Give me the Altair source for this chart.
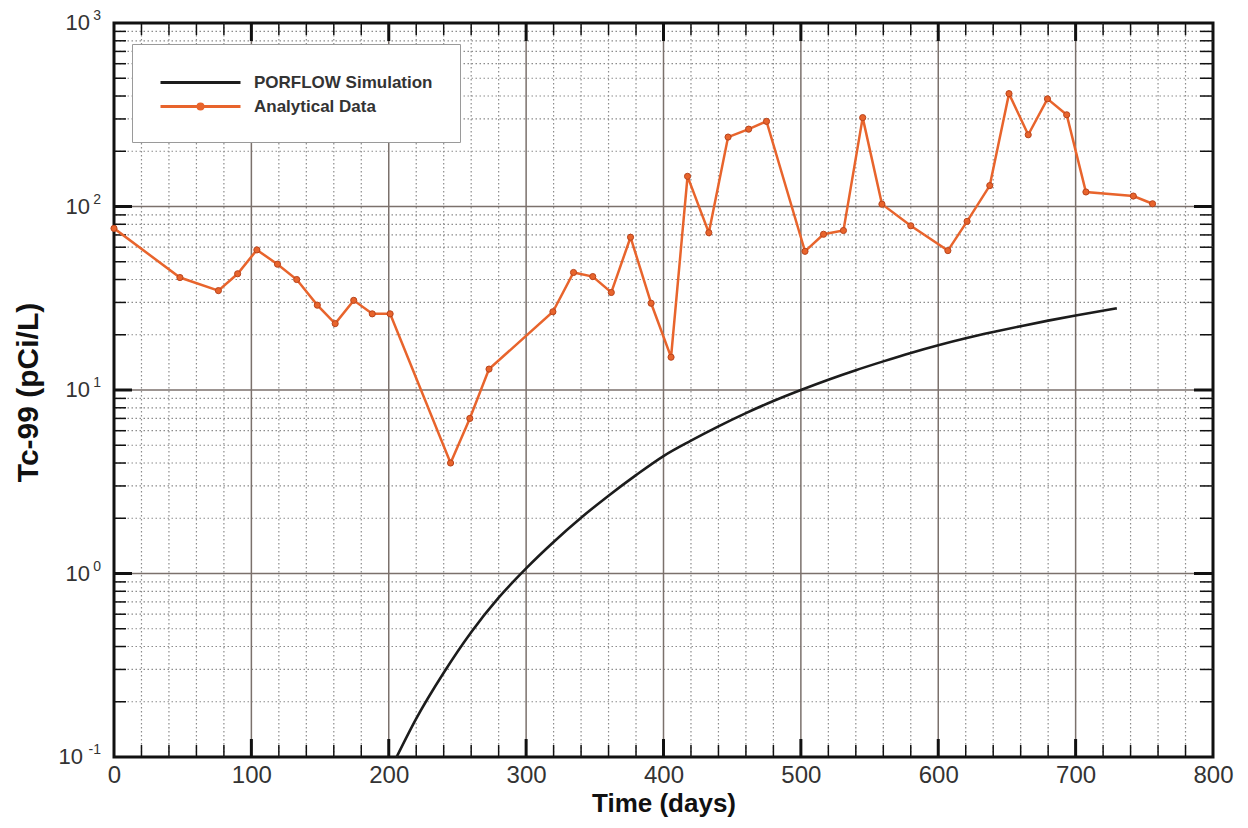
import altair as alt
import pandas as pd

# ---------------- data ----------------
ana_days = [0, 48, 76, 90, 104, 119, 133, 148, 161, 174.5, 188, 201, 245, 259, 273,
            319.5, 334.5, 348.5, 362, 376, 391, 405.5, 417.5, 433, 447, 462, 475,
            503, 516.5, 531, 545, 559, 580, 607, 621, 637.5, 651.5, 665.5, 679.5,
            693.5, 707.5, 742, 756]
ana_vals = [76, 41, 34.8, 43, 58, 48.5, 40, 29, 23, 30.8, 26, 26, 4.0, 7.0, 13,
            26.7, 43.7, 41.5, 34, 68, 29.7, 15.1, 146, 72, 239, 264, 291,
            57, 70.6, 74, 305, 103, 78.5, 57.5, 83, 130, 412, 246, 386,
            316, 120, 114, 103.5]

sim_days = [205.7, 220, 240, 260, 280, 300, 320, 340, 360, 380, 400, 420, 440, 460,
            480, 500, 520, 540, 560, 580, 600, 620, 640, 660, 680, 700, 730]
sim_vals = [0.1, 0.162, 0.288, 0.479, 0.738, 1.067, 1.486, 2.014, 2.655, 3.436, 4.365,
            5.297, 6.339, 7.482, 8.71, 10.0, 11.38, 12.82, 14.32, 15.92, 17.54,
            19.14, 20.70, 22.28, 23.88, 25.47, 27.86]

x_ticks = [0, 100, 200, 300, 400, 500, 600, 700, 800]
decades = [0.1, 1, 10, 100, 1000]
exponents = ["-1", "0", "1", "2", "3"]
series = ["PORFLOW Simulation", "Analytical Data"]

# ---------------- styling ----------------
W, H = 1099, 734
ORANGE = "#E8642C"
BLACK = "#1c1c1c"
FONT = "Liberation Sans"
MAJ_GRID = "#7b716c"
MIN_GRID = "#8c8c8c"

xs = alt.Scale(domain=[0, 800], nice=False, zero=False)
ys = alt.Scale(type="log", domain=[0.1, 1000], nice=False)

ana = pd.DataFrame({"days": ana_days, "val": ana_vals})
sim = pd.DataFrame({"days": sim_days, "val": sim_vals})

minor_x = pd.DataFrame({"days": [d for d in range(20, 800, 20) if d % 100]})
major_x = pd.DataFrame({"days": [d for d in x_ticks if 0 < d < 800]})
minor_y = pd.DataFrame({"val": [m * dec for dec in decades[:-1] for m in range(2, 10)]})
major_y = pd.DataFrame({"val": decades[1:-1]})

x_axis = alt.Axis(values=x_ticks, format="d", labelFontSize=24, labelFont=FONT,
                  labelColor="#333", tickSize=0, domain=False, grid=False,
                  labelPadding=6, labelFlush=False, title="Time (days)",
                  titleFontSize=26, titleFont=FONT, titleFontWeight="bold",
                  titleColor="#111", titlePadding=3)
y_axis = alt.Axis(labels=False, ticks=False, domain=False, grid=False,
                  title="Tc-99 (pCi/L)", titleFontSize=30, titleFont=FONT,
                  titleFontWeight="bold", titleColor="#111", titleX=-86,
                  titleY=369, titleAngle=270, titleAlign="center",
                  titleBaseline="middle")

X = lambda: alt.X("days:Q", scale=xs, axis=x_axis)
Y = lambda: alt.Y("val:Q", scale=ys, axis=y_axis)

# grids
g_minor_x = alt.Chart(minor_x).mark_rule(color=MIN_GRID, strokeWidth=1.2,
                                         strokeDash=[1.5, 2.5]).encode(x=X())
g_minor_y = alt.Chart(minor_y).mark_rule(color=MIN_GRID, strokeWidth=1.2,
                                         strokeDash=[1.5, 2.5]).encode(y=Y())
g_major_x = alt.Chart(major_x).mark_rule(color=MAJ_GRID, strokeWidth=1.5).encode(x=X())
g_major_y = alt.Chart(major_y).mark_rule(color=MAJ_GRID, strokeWidth=1.5).encode(y=Y())

# inside ticks
def xticks(df, length, width, top):
    if top:
        return alt.Chart(df).mark_rule(color="#111", strokeWidth=width).encode(
            x=X(), y=alt.value(0), y2=alt.value(length))
    return alt.Chart(df).mark_rule(color="#111", strokeWidth=width).encode(
        x=X(), y=alt.value(H), y2=alt.value(H - length))

def yticks(df, length, width, right):
    if right:
        return alt.Chart(df).mark_rule(color="#111", strokeWidth=width).encode(
            y=Y(), x=alt.value(W), x2=alt.value(W - length))
    return alt.Chart(df).mark_rule(color="#111", strokeWidth=width).encode(
        y=Y(), x=alt.value(0), x2=alt.value(length))

tick_layers = [
    xticks(minor_x, 12, 1.5, False), xticks(major_x, 18, 3, False),
    xticks(minor_x, 12, 1.5, True), xticks(major_x, 18, 3, True),
    yticks(minor_y, 12, 1.5, False), yticks(major_y, 18, 3, False),
    yticks(minor_y, 13, 1.5, True), yticks(major_y, 19, 3, True),
]

# data series
sim_line = alt.Chart(sim).mark_line(color=BLACK, strokeWidth=2.6, clip=True,
                                    interpolate="monotone").encode(x=X(), y=Y())
ana_line = alt.Chart(ana).mark_line(color=ORANGE, strokeWidth=2.5, clip=True).encode(
    x=X(), y=Y())
ana_pts = alt.Chart(ana).mark_point(filled=True, size=38, color=ORANGE, opacity=1,
                                    stroke="#b9441c", strokeWidth=1).encode(x=X(), y=Y())

# legend (legend-only layer; rows have no position so no mark is drawn)
path_line = "M-1,0H7"
path_mark = "M-1,0H7M2.75,0A0.25,0.25,0,1,1,3.25,0A0.25,0.25,0,1,1,2.75,0"
leg_df = pd.DataFrame({"series": series, "days": [None, None], "val": [None, None]})
legend_props = dict(orient="none", legendX=18, legendY=21, padding=27,
                    fillColor="white", strokeColor="#9a9a9a", labelFont=FONT,
                    labelFontSize=17, labelFontWeight="bold", labelColor="#333",
                    labelOffset=72, symbolSize=400, symbolStrokeWidth=3,
                    rowPadding=4, title=None, labelLimit=400)
legend_layer = alt.Chart(leg_df).mark_point(filled=False, size=400, strokeWidth=3,
                                            opacity=1).encode(
    x=X(), y=Y(),
    color=alt.Color("series:N", scale=alt.Scale(domain=series, range=[BLACK, ORANGE]),
                    legend=alt.Legend(**legend_props)),
    shape=alt.Shape("series:N", scale=alt.Scale(domain=series, range=[path_line, path_mark]),
                    legend=alt.Legend(**legend_props)),
)

# y tick labels with superscript exponents
lab = pd.DataFrame({"val": decades, "exp": exponents, "base": ["10"] * len(decades)})
base_pos = alt.Chart(lab).transform_filter("datum.exp != '-1'").mark_text(
    align="right", baseline="middle", fontSize=22, font=FONT, color="#333").encode(
    x=alt.value(-24), y=Y(), text="base:N")
base_neg = alt.Chart(lab).transform_filter("datum.exp == '-1'").mark_text(
    align="right", baseline="middle", fontSize=22, font=FONT, color="#333").encode(
    x=alt.value(-31), y=Y(), text="base:N")
exp_txt = alt.Chart(lab).mark_text(align="right", baseline="middle", dy=-7,
                                   fontSize=14, font=FONT, color="#333").encode(
    x=alt.value(-13), y=Y(), text="exp:N")

chart = alt.layer(
    g_minor_x, g_minor_y, g_major_x, g_major_y, *tick_layers,
    sim_line, ana_line, ana_pts, legend_layer, base_pos, base_neg, exp_txt,
).properties(
    width=W, height=H,
    padding={"left": 106, "top": 15, "right": 27, "bottom": 63},
    autosize=alt.AutoSizeParams(type="none"),
    background="white",
).configure_view(stroke="#111", strokeWidth=3)

chart.save("out.html", embed_options={"renderer": "svg", "actions": False})
